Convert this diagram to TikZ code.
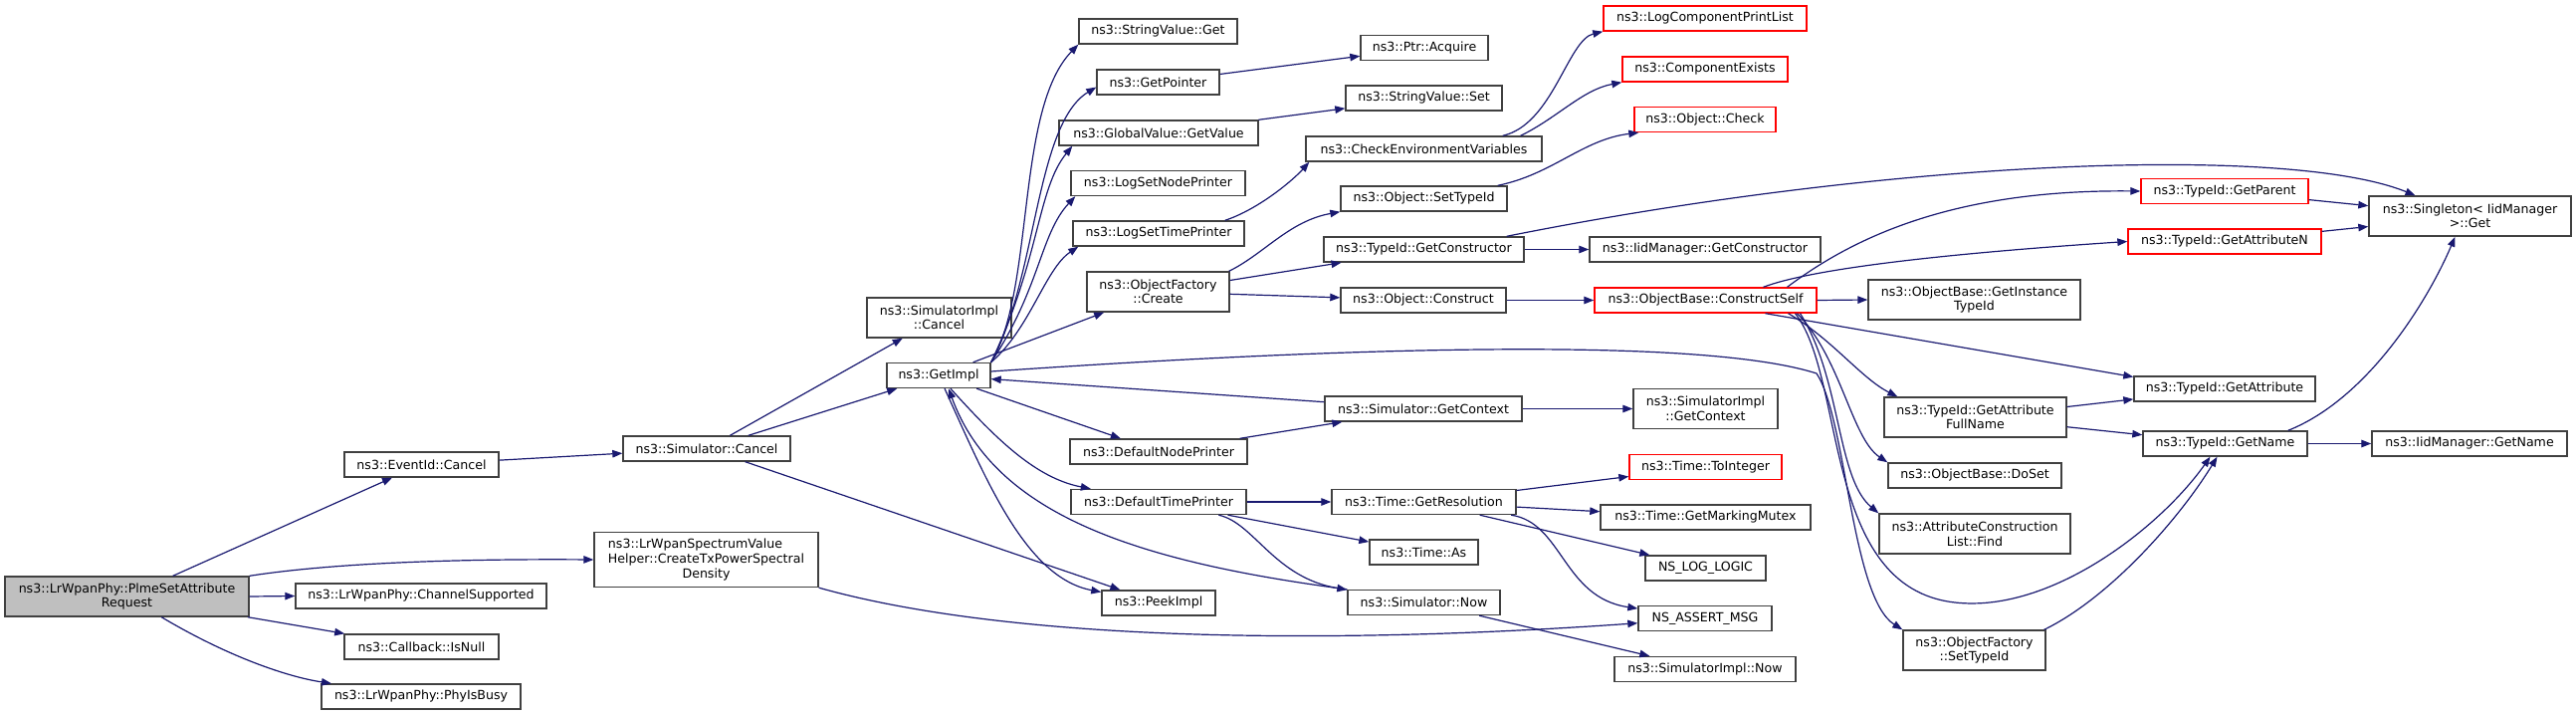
\documentclass[tikz,border=0pt]{standalone}
\usepackage{fontspec}
\setmainfont{DejaVu Sans}
\usetikzlibrary{arrows.meta}

\definecolor{edgeblue}{HTML}{191970}
\definecolor{boxgrey}{HTML}{404040}
\definecolor{rootgrey}{HTML}{BFBFBF}

\begin{document}
\begin{tikzpicture}[x=1pt, y=-1pt, font=\fontsize{12.6}{14.6}\selectfont,
  fn/.style={draw=boxgrey, line width=1.4pt, fill=white, inner sep=0pt,
             minimum height=25pt, align=center},
  fnred/.style={fn, draw=red},
  fnroot/.style={fn, fill=rootgrey},
  call/.style={draw=edgeblue, line width=1.2pt,
               -{Triangle[length=10pt, width=7.5pt]}}]

\useasboundingbox (0,0) rectangle (2588,719);

% ── CALLER ──────────────────────────────────────────────────
\node[fnroot, minimum width=245pt, minimum height=40pt] (root) at (127.5,599)
  {ns3::LrWpanPhy::PlmeSetAttribute\\Request};

% ── RANK 1 ──────────────────────────────────────────────────
\node[fn, minimum width=155pt] (evcancel) at (423.5,466.5) {ns3::EventId::Cancel};
\node[fn, minimum width=252pt] (channel)  at (423,598.5)   {ns3::LrWpanPhy::ChannelSupported};
\node[fn, minimum width=155pt] (isnull)   at (423.5,649.5) {ns3::Callback::IsNull};
\node[fn, minimum width=200pt] (phybusy)  at (423,699.5)   {ns3::LrWpanPhy::PhyIsBusy};

% ── RANK 2 ──────────────────────────────────────────────────
\node[fn, minimum width=168pt] (simcancel) at (710,450.5) {ns3::Simulator::Cancel};
\node[fn, minimum width=225pt, minimum height=55pt] (lrhelper) at (709.5,562)
  {\rlap{ns3::LrWpanSpectrumValue}\phantom{Helper::CreateTxPowerSpectral}\\Helper::CreateTxPowerSpectral\\Density};

% ── RANK 3 ──────────────────────────────────────────────────
\node[fn, minimum width=145pt, minimum height=40pt] (simimplcancel) at (943.5,319)
  {ns3::SimulatorImpl\\::Cancel};
\node[fn, minimum width=104pt] (getimpl) at (943,377) {ns3::GetImpl};

% ── RANK 4 ──────────────────────────────────────────────────
\node[fn, minimum width=159pt] (stringget)   at (1163.5,31.5)  {ns3::StringValue::Get};
\node[fn, minimum width=123pt] (getpointer)  at (1163.5,82.5)  {ns3::GetPointer};
\node[fn, minimum width=200pt] (globalvalue) at (1164,133.5)   {ns3::GlobalValue::GetValue};
\node[fn, minimum width=175pt] (logsetnode)  at (1163.5,184)   {ns3::LogSetNodePrinter};
\node[fn, minimum width=172pt] (logsettime)  at (1164,234.5)   {ns3::LogSetTimePrinter};
\node[fn, minimum width=143pt, minimum height=40pt] (objcreate) at (1163.5,293)
  {ns3::ObjectFactory\\::Create};
\node[fn, minimum width=178pt] (defnode)  at (1164,453.5)  {ns3::DefaultNodePrinter};
\node[fn, minimum width=176pt] (deftime)  at (1164,504)    {ns3::DefaultTimePrinter};
\node[fn, minimum width=114pt] (peekimpl) at (1164,605.5)  {ns3::PeekImpl};

% ── RANK 5 ──────────────────────────────────────────────────
\node[fn, minimum width=128pt] (ptracquire)   at (1431,48)     {ns3::Ptr::Acquire};
\node[fn, minimum width=157pt] (stringset)    at (1430.5,98.5) {ns3::StringValue::Set};
\node[fn, minimum width=237pt] (checkenv)     at (1430.5,149.5){ns3::CheckEnvironmentVariables};
\node[fn, minimum width=167pt] (setobjtype)   at (1430.5,199.5){ns3::Object::SetTypeId};
\node[fn, minimum width=201pt] (getctor)      at (1430.5,250.5){ns3::TypeId::GetConstructor};
\node[fn, minimum width=166pt] (objconstruct) at (1430,301.5)  {ns3::Object::Construct};
\node[fn, minimum width=198pt] (simcontext)   at (1430,410.5)  {ns3::Simulator::GetContext};
\node[fn, minimum width=185pt] (timeres)      at (1430.5,504)  {ns3::Time::GetResolution};
\node[fn, minimum width=109pt] (timeas)       at (1430.5,554.5){ns3::Time::As};
\node[fn, minimum width=153pt] (simnow)       at (1430.5,605)  {ns3::Simulator::Now};

% ── RANK 6 ──────────────────────────────────────────────────
\node[fnred, minimum width=204pt] (logcomp)    at (1713,18.5)  {ns3::LogComponentPrintList};
\node[fnred, minimum width=166pt] (compexists) at (1713,69.5)  {ns3::ComponentExists};
\node[fnred, minimum width=142pt] (objcheck)   at (1713,120)   {ns3::Object::Check};
\node[fn, minimum width=232pt] (iidctor)       at (1713,250.5) {ns3::IidManager::GetConstructor};
\node[fnred, minimum width=223pt] (constructself) at (1713.5,301.5) {ns3::ObjectBase::ConstructSelf};
\node[fn, minimum width=145pt, minimum height=40pt] (simimplcontext) at (1713.5,410.5)
  {ns3::SimulatorImpl\\::GetContext};
\node[fnred, minimum width=153pt] (tointeger) at (1713.5,469)   {ns3::Time::ToInteger};
\node[fn, minimum width=211pt] (mutex)        at (1713.5,519.5) {ns3::Time::GetMarkingMutex};
\node[fn, minimum width=121pt] (nslog)        at (1713.5,570.5) {NS\_LOG\_LOGIC};
\node[fn, minimum width=134pt] (assert)       at (1713,621)     {NS\_ASSERT\_MSG};
\node[fn, minimum width=182pt] (simimplnow)   at (1713,672)     {ns3::SimulatorImpl::Now};

% ── RANK 7 ──────────────────────────────────────────────────
\node[fn, minimum width=213pt, minimum height=40pt] (instancetype) at (1983.5,301)
  {ns3::ObjectBase::GetInstance\\TypeId};
\node[fn, minimum width=183pt, minimum height=40pt] (getattrfull) at (1984.5,419)
  {ns3::TypeId::GetAttribute\\FullName};
\node[fn, minimum width=174pt] (doset) at (1984,477.5) {ns3::ObjectBase::DoSet};
\node[fn, minimum width=192pt, minimum height=40pt] (find) at (1984,536)
  {ns3::AttributeConstruction\\List::Find};
\node[fn, minimum width=143pt, minimum height=40pt] (setfactorytype) at (1983.5,653)
  {ns3::ObjectFactory\\::SetTypeId};

% ── RANK 8 ──────────────────────────────────────────────────
\node[fnred, minimum width=168pt] (getparent) at (2235,192)   {ns3::TypeId::GetParent};
\node[fnred, minimum width=194pt] (getattrn)  at (2235,242.5) {ns3::TypeId::GetAttributeN};
\node[fn, minimum width=182pt] (getattr)      at (2235,390.5) {ns3::TypeId::GetAttribute};
\node[fn, minimum width=165pt] (getname)      at (2235.5,445.5) {ns3::TypeId::GetName};

% ── RANK 9 ──────────────────────────────────────────────────
\node[fn, minimum width=203pt, minimum height=40pt] (singleton) at (2481.5,217)
  {ns3::Singleton< IidManager\\>::Get};
\node[fn, minimum width=196pt] (iidname) at (2481,445.5) {ns3::IidManager::GetName};

% ── CALLS ───────────────────────────────────────────────────
\draw[call] (root) -- (evcancel);
\draw[call] (root.north east) .. controls (330,566) and (450,561) .. (lrhelper.west);
\draw[call] (root.east) -- (channel.west);
\draw[call] (root) -- (isnull);
\draw[call] (root) .. controls (230,660) and (290,680) .. (phybusy);

\draw[call] (evcancel) -- (simcancel);
\draw[call] (simcancel) -- (simimplcancel);
\draw[call] (simcancel) -- (getimpl);
\draw[call] (simcancel) -- (peekimpl);

% GetImpl fan-out
\draw[call] (getimpl.north east) .. controls (1040,290) and (1020,110) .. (stringget.south west);
\draw[call] (getimpl.north east) .. controls (1042,280) and (1040,125) .. ([yshift=-5pt]getpointer.west);
\draw[call] (getimpl.north east) .. controls (1045,260) and (1042,190) .. ([xshift=14pt]globalvalue.south west);
\draw[call] (getimpl.north east) .. controls (1045,290) and (1045,235) .. ([xshift=5pt]logsetnode.south west);
\draw[call] (getimpl.north east) .. controls (1035,330) and (1050,270) .. ([xshift=6pt]logsettime.south west);
\draw[call] (getimpl) -- (objcreate);
\draw[call] (getimpl) -- (defnode);
\draw[call] (getimpl) .. controls (1000,440) and (1040,480) .. (deftime);
\draw[call] (getimpl) .. controls (990,480) and (1030,580) .. (peekimpl);
\draw[call] ([yshift=4pt]getimpl.east) .. controls (1300,352) and (1700,335) .. (1825,375)
  .. controls (1855,420) and (1860,600) .. (setfactorytype.north west);
\draw[call] (simnow.north west) .. controls (1150,565) and (1000,520) .. ([xshift=10pt]getimpl.south);

\draw[call] (getpointer) -- (ptracquire);
\draw[call] (globalvalue) -- (stringset);
\draw[call] ([xshift=-20pt]logsettime.north east) .. controls (1265,210) and (1300,180) .. ([xshift=4pt]checkenv.south west);
\draw[call] ([xshift=-1pt]objcreate.north east) .. controls (1270,255) and (1295,222) .. (setobjtype.south west);
\draw[call] (objcreate) -- (getctor);
\draw[call] (objcreate) -- (objconstruct);

\draw[call] (defnode) -- (simcontext);
\draw[call] (simcontext) -- (getimpl);
\draw[call] (simcontext.east) -- (simimplcontext.west);
\draw[call] (deftime.east) -- (timeres.west);
\draw[call] (deftime) -- (timeas);
\draw[call] (deftime) .. controls (1260,525) and (1280,580) .. (simnow);
\draw[call] (simnow) -- (simimplnow);

\draw[call] (timeres) -- (tointeger);
\draw[call] (timeres) -- (mutex);
\draw[call] (timeres) -- (nslog);
\draw[call] (timeres) .. controls (1570,525) and (1570,600) .. (assert);
\draw[call] (lrhelper.south east) .. controls (1000,640) and (1300,650) .. (assert);

\draw[call] ([xshift=-40pt]checkenv.north east) .. controls (1560,125) and (1575,40) .. (logcomp.south west);
\draw[call] ([xshift=-22pt]checkenv.north east) .. controls (1565,118) and (1590,90) .. (compexists.south west);
\draw[call] ([xshift=-10pt]setobjtype.north east) .. controls (1560,175) and (1590,140) .. ([xshift=5pt]objcheck.south west);
\draw[call] (getctor.east) -- (iidctor.west);
\draw[call] ([xshift=-18pt]getctor.north east) .. controls (1900,160) and (2300,145) .. ([xshift=-55pt]singleton.north);
\draw[call] (objconstruct.east) -- (constructself.west);

% ConstructSelf fan-out
\draw[call] (constructself.east) -- (instancetype.west);
\draw[call] ([xshift=82pt]constructself.north) .. controls (1860,240) and (1960,190) .. (getparent.west);
\draw[call] ([xshift=58pt]constructself.north) .. controls (1820,270) and (1950,255) .. (getattrn.west);
\draw[call] ([xshift=60pt]constructself.south) -- ([yshift=12pt]getattr.west);
\draw[call] ([xshift=83pt]constructself.south) .. controls (1840,340) and (1870,380) .. ([xshift=14pt]getattrfull.north west);
\draw[call] ([xshift=92pt]constructself.south) .. controls (1850,360) and (1860,440) .. (doset.north west);
\draw[call] ([xshift=95pt]constructself.south) .. controls (1850,380) and (1845,480) .. (find.north west);
\draw[call] ([xshift=90pt]constructself.south) .. controls (1855,380) and (1830,590) .. (1964,605)
  .. controls (2060,616) and (2170,530) .. ([xshift=-15pt]getname.south);
\draw[call] ([xshift=-2pt]setfactorytype.north east) .. controls (2120,600) and (2190,520) .. ([xshift=-8pt]getname.south);

\draw[call] (getattrfull) -- (getattr);
\draw[call] (getattrfull) -- (getname);
\draw[call] (getparent) -- (singleton);
\draw[call] (getattrn) -- (singleton);
\draw[call] ([xshift=-20pt]getname.north east) .. controls (2380,400) and (2440,300) .. ([xshift=-15pt]singleton.south);
\draw[call] (getname.east) -- (iidname.west);

\end{tikzpicture}
\end{document}
